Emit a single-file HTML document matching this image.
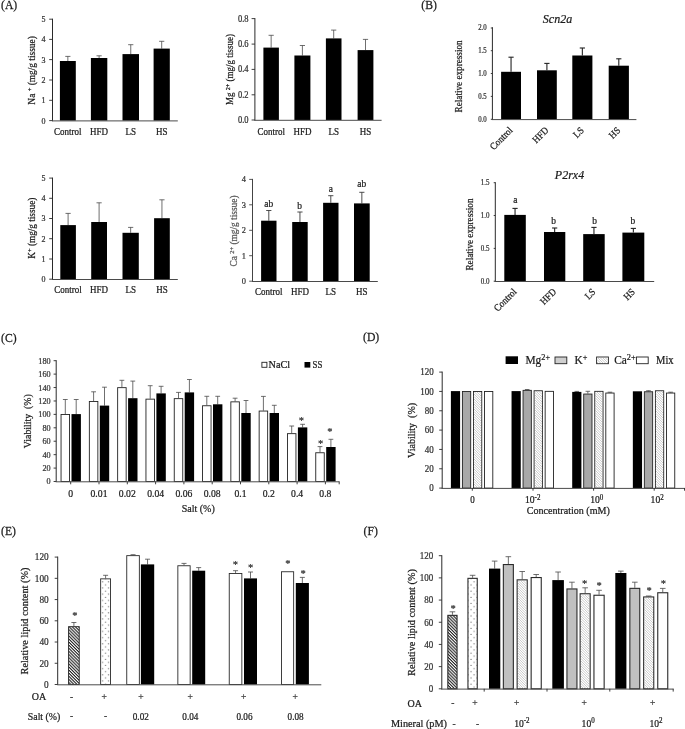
<!DOCTYPE html>
<html lang="en">
<head>
<meta charset="utf-8">
<title>Figure</title>
<style>
html,body{margin:0;padding:0;background:#fff;}
body{width:685px;height:729px;overflow:hidden;}
svg{display:block;filter:blur(0.35px);font-family:"Liberation Serif","Times New Roman",serif;}
</style>
</head>
<body>
<svg width="685" height="729" viewBox="0 0 685 729">
<rect width="685" height="729" fill="#fff"/>
<defs>
<pattern id="hd" width="2.2" height="2.2" patternUnits="userSpaceOnUse" patternTransform="rotate(45)">
<rect width="2.2" height="2.2" fill="#fff"/><rect width="2.2" height="1.1" fill="#222"/></pattern>
<pattern id="hl" width="2.4" height="2.4" patternUnits="userSpaceOnUse">
<rect width="2.4" height="2.4" fill="#fff"/><path d="M-0.6,-0.6L3,3M-0.6,1.8L0.6,3M1.8,-0.6L3,0.6" stroke="#9a9a9a" stroke-width="0.5" fill="none"/></pattern>
<pattern id="dots" width="5.9" height="6.2" patternUnits="userSpaceOnUse">
<rect width="5.9" height="6.2" fill="#fff"/><circle cx="2.3" cy="5.2" r="0.55" fill="#333"/><circle cx="5.2" cy="2.1" r="0.55" fill="#333"/></pattern>
<pattern id="dotsF" width="6.05" height="6.2" patternUnits="userSpaceOnUse">
<rect width="6.05" height="6.2" fill="#fff"/><circle cx="2.15" cy="5.2" r="0.55" fill="#333"/><circle cx="5.2" cy="2.1" r="0.55" fill="#333"/></pattern>
</defs>
<text transform="translate(1,8.9) scale(1,1.15)" font-size="11.7" text-anchor="start" fill="#1c1c1c" stroke="#1c1c1c" stroke-width="0.22">(A)</text>
<line x1="67.85" y1="56.4" x2="67.85" y2="61" stroke="#4a4a4a" stroke-width="0.8"/>
<line x1="65.25" y1="56.4" x2="70.45" y2="56.4" stroke="#4a4a4a" stroke-width="0.8"/>
<rect x="59.9" y="61" width="15.9" height="59.6" fill="#000"/>
<line x1="99.1" y1="55.8" x2="99.1" y2="58" stroke="#4a4a4a" stroke-width="0.8"/>
<line x1="96.5" y1="55.8" x2="101.7" y2="55.8" stroke="#4a4a4a" stroke-width="0.8"/>
<rect x="90.9" y="58" width="16.4" height="62.6" fill="#000"/>
<line x1="130.75" y1="44.7" x2="130.75" y2="54.1" stroke="#4a4a4a" stroke-width="0.8"/>
<line x1="128.15" y1="44.7" x2="133.35" y2="44.7" stroke="#4a4a4a" stroke-width="0.8"/>
<rect x="122.5" y="54.1" width="16.5" height="66.5" fill="#000"/>
<line x1="161.7" y1="41.3" x2="161.7" y2="48.6" stroke="#4a4a4a" stroke-width="0.8"/>
<line x1="159.1" y1="41.3" x2="164.3" y2="41.3" stroke="#4a4a4a" stroke-width="0.8"/>
<rect x="153.6" y="48.6" width="16.2" height="72" fill="#000"/>
<line x1="52.5" y1="18.7" x2="52.5" y2="121.1" stroke="#2a2a2a" stroke-width="1"/>
<line x1="49.2" y1="19.2" x2="52.5" y2="19.2" stroke="#2a2a2a" stroke-width="0.9"/>
<text transform="translate(45.6,22.1) scale(1,1.1)" font-size="8" text-anchor="end" fill="#333" stroke="#333" stroke-width="0.22">5</text>
<line x1="49.2" y1="39.4" x2="52.5" y2="39.4" stroke="#2a2a2a" stroke-width="0.9"/>
<text transform="translate(45.6,42.3) scale(1,1.1)" font-size="8" text-anchor="end" fill="#333" stroke="#333" stroke-width="0.22">4</text>
<line x1="49.2" y1="59.6" x2="52.5" y2="59.6" stroke="#2a2a2a" stroke-width="0.9"/>
<text transform="translate(45.6,62.5) scale(1,1.1)" font-size="8" text-anchor="end" fill="#333" stroke="#333" stroke-width="0.22">3</text>
<line x1="49.2" y1="80" x2="52.5" y2="80" stroke="#2a2a2a" stroke-width="0.9"/>
<text transform="translate(45.6,82.9) scale(1,1.1)" font-size="8" text-anchor="end" fill="#333" stroke="#333" stroke-width="0.22">2</text>
<line x1="49.2" y1="100.3" x2="52.5" y2="100.3" stroke="#2a2a2a" stroke-width="0.9"/>
<text transform="translate(45.6,103.2) scale(1,1.1)" font-size="8" text-anchor="end" fill="#333" stroke="#333" stroke-width="0.22">1</text>
<line x1="49.2" y1="120.6" x2="52.5" y2="120.6" stroke="#2a2a2a" stroke-width="0.9"/>
<text transform="translate(45.6,123.5) scale(1,1.1)" font-size="8" text-anchor="end" fill="#333" stroke="#333" stroke-width="0.22">0</text>
<line x1="52" y1="120.9" x2="177.8" y2="120.9" stroke="#4a4a4a" stroke-width="1"/>
<text transform="translate(35.2,70.4) rotate(-90) scale(1,1.08)" font-size="8.7" text-anchor="middle" fill="#1c1c1c" stroke="#1c1c1c" stroke-width="0.22" textLength="68.5" lengthAdjust="spacingAndGlyphs">Na <tspan font-size="6" dy="-3.2">+</tspan><tspan dy="3.2"> (mg/g tissue)</tspan></text>
<text transform="translate(67.85,135.3) scale(1,1.1)" font-size="9" text-anchor="middle" fill="#1c1c1c" stroke="#1c1c1c" stroke-width="0.22">Control</text>
<text transform="translate(99.1,135.3) scale(1,1.1)" font-size="9" text-anchor="middle" fill="#1c1c1c" stroke="#1c1c1c" stroke-width="0.22">HFD</text>
<text transform="translate(130.75,135.3) scale(1,1.1)" font-size="9" text-anchor="middle" fill="#1c1c1c" stroke="#1c1c1c" stroke-width="0.22">LS</text>
<text transform="translate(161.7,135.3) scale(1,1.1)" font-size="9" text-anchor="middle" fill="#1c1c1c" stroke="#1c1c1c" stroke-width="0.22">HS</text>
<line x1="271.15" y1="35.3" x2="271.15" y2="47.6" stroke="#4a4a4a" stroke-width="0.8"/>
<line x1="268.55" y1="35.3" x2="273.75" y2="35.3" stroke="#4a4a4a" stroke-width="0.8"/>
<rect x="263.4" y="47.6" width="15.5" height="72.4" fill="#000"/>
<line x1="302.4" y1="45.5" x2="302.4" y2="55.5" stroke="#4a4a4a" stroke-width="0.8"/>
<line x1="299.8" y1="45.5" x2="305" y2="45.5" stroke="#4a4a4a" stroke-width="0.8"/>
<rect x="294.4" y="55.5" width="16" height="64.5" fill="#000"/>
<line x1="333.7" y1="30.1" x2="333.7" y2="38.4" stroke="#4a4a4a" stroke-width="0.8"/>
<line x1="331.1" y1="30.1" x2="336.3" y2="30.1" stroke="#4a4a4a" stroke-width="0.8"/>
<rect x="325.9" y="38.4" width="15.6" height="81.6" fill="#000"/>
<line x1="365.5" y1="39.4" x2="365.5" y2="50.1" stroke="#4a4a4a" stroke-width="0.8"/>
<line x1="362.9" y1="39.4" x2="368.1" y2="39.4" stroke="#4a4a4a" stroke-width="0.8"/>
<rect x="357.6" y="50.1" width="15.8" height="69.9" fill="#000"/>
<line x1="254.9" y1="18.1" x2="254.9" y2="120.5" stroke="#2a2a2a" stroke-width="1"/>
<line x1="251.6" y1="18.6" x2="254.9" y2="18.6" stroke="#2a2a2a" stroke-width="0.9"/>
<text transform="translate(248.6,21.69) scale(1,1.1)" font-size="8.5" text-anchor="end" fill="#333" stroke="#333" stroke-width="0.22">0.8</text>
<line x1="251.6" y1="44.1" x2="254.9" y2="44.1" stroke="#2a2a2a" stroke-width="0.9"/>
<text transform="translate(248.6,47.19) scale(1,1.1)" font-size="8.5" text-anchor="end" fill="#333" stroke="#333" stroke-width="0.22">0.6</text>
<line x1="251.6" y1="69.4" x2="254.9" y2="69.4" stroke="#2a2a2a" stroke-width="0.9"/>
<text transform="translate(248.6,72.49) scale(1,1.1)" font-size="8.5" text-anchor="end" fill="#333" stroke="#333" stroke-width="0.22">0.4</text>
<line x1="251.6" y1="94.8" x2="254.9" y2="94.8" stroke="#2a2a2a" stroke-width="0.9"/>
<text transform="translate(248.6,97.89) scale(1,1.1)" font-size="8.5" text-anchor="end" fill="#333" stroke="#333" stroke-width="0.22">0.2</text>
<line x1="251.6" y1="120" x2="254.9" y2="120" stroke="#2a2a2a" stroke-width="0.9"/>
<text transform="translate(248.6,123.09) scale(1,1.1)" font-size="8.5" text-anchor="end" fill="#333" stroke="#333" stroke-width="0.22">0.0</text>
<line x1="254.4" y1="120.3" x2="381.6" y2="120.3" stroke="#4a4a4a" stroke-width="1"/>
<text transform="translate(233.4,69.6) rotate(-90) scale(1,1.08)" font-size="8.7" text-anchor="middle" fill="#1c1c1c" stroke="#1c1c1c" stroke-width="0.22" textLength="71" lengthAdjust="spacingAndGlyphs">Mg <tspan font-size="6" dy="-3.2">2+</tspan><tspan dy="3.2"> (mg/g tissue)</tspan></text>
<text transform="translate(271.15,134.6) scale(1,1.1)" font-size="9" text-anchor="middle" fill="#1c1c1c" stroke="#1c1c1c" stroke-width="0.22">Control</text>
<text transform="translate(302.4,134.6) scale(1,1.1)" font-size="9" text-anchor="middle" fill="#1c1c1c" stroke="#1c1c1c" stroke-width="0.22">HFD</text>
<text transform="translate(333.7,134.6) scale(1,1.1)" font-size="9" text-anchor="middle" fill="#1c1c1c" stroke="#1c1c1c" stroke-width="0.22">LS</text>
<text transform="translate(365.5,134.6) scale(1,1.1)" font-size="9" text-anchor="middle" fill="#1c1c1c" stroke="#1c1c1c" stroke-width="0.22">HS</text>
<line x1="68.1" y1="213.4" x2="68.1" y2="225.1" stroke="#4a4a4a" stroke-width="0.8"/>
<line x1="65.5" y1="213.4" x2="70.7" y2="213.4" stroke="#4a4a4a" stroke-width="0.8"/>
<rect x="60.3" y="225.1" width="15.6" height="54.1" fill="#000"/>
<line x1="99.1" y1="202.8" x2="99.1" y2="222" stroke="#4a4a4a" stroke-width="0.8"/>
<line x1="96.5" y1="202.8" x2="101.7" y2="202.8" stroke="#4a4a4a" stroke-width="0.8"/>
<rect x="91.2" y="222" width="15.8" height="57.2" fill="#000"/>
<line x1="130.65" y1="227.4" x2="130.65" y2="232.8" stroke="#4a4a4a" stroke-width="0.8"/>
<line x1="128.05" y1="227.4" x2="133.25" y2="227.4" stroke="#4a4a4a" stroke-width="0.8"/>
<rect x="122.5" y="232.8" width="16.3" height="46.4" fill="#000"/>
<line x1="161.95" y1="199.8" x2="161.95" y2="218.2" stroke="#4a4a4a" stroke-width="0.8"/>
<line x1="159.35" y1="199.8" x2="164.55" y2="199.8" stroke="#4a4a4a" stroke-width="0.8"/>
<rect x="154.1" y="218.2" width="15.7" height="61" fill="#000"/>
<line x1="52.5" y1="177.6" x2="52.5" y2="279.7" stroke="#2a2a2a" stroke-width="1"/>
<line x1="49.2" y1="178.1" x2="52.5" y2="178.1" stroke="#2a2a2a" stroke-width="0.9"/>
<text transform="translate(45.6,181) scale(1,1.1)" font-size="8" text-anchor="end" fill="#333" stroke="#333" stroke-width="0.22">5</text>
<line x1="49.2" y1="198.3" x2="52.5" y2="198.3" stroke="#2a2a2a" stroke-width="0.9"/>
<text transform="translate(45.6,201.2) scale(1,1.1)" font-size="8" text-anchor="end" fill="#333" stroke="#333" stroke-width="0.22">4</text>
<line x1="49.2" y1="218.5" x2="52.5" y2="218.5" stroke="#2a2a2a" stroke-width="0.9"/>
<text transform="translate(45.6,221.4) scale(1,1.1)" font-size="8" text-anchor="end" fill="#333" stroke="#333" stroke-width="0.22">3</text>
<line x1="49.2" y1="238.7" x2="52.5" y2="238.7" stroke="#2a2a2a" stroke-width="0.9"/>
<text transform="translate(45.6,241.6) scale(1,1.1)" font-size="8" text-anchor="end" fill="#333" stroke="#333" stroke-width="0.22">2</text>
<line x1="49.2" y1="259" x2="52.5" y2="259" stroke="#2a2a2a" stroke-width="0.9"/>
<text transform="translate(45.6,261.9) scale(1,1.1)" font-size="8" text-anchor="end" fill="#333" stroke="#333" stroke-width="0.22">1</text>
<line x1="49.2" y1="279.2" x2="52.5" y2="279.2" stroke="#2a2a2a" stroke-width="0.9"/>
<text transform="translate(45.6,282.1) scale(1,1.1)" font-size="8" text-anchor="end" fill="#333" stroke="#333" stroke-width="0.22">0</text>
<line x1="52" y1="279.5" x2="177.8" y2="279.5" stroke="#4a4a4a" stroke-width="1"/>
<text transform="translate(35.2,228.2) rotate(-90) scale(1,1.08)" font-size="8.7" text-anchor="middle" fill="#1c1c1c" stroke="#1c1c1c" stroke-width="0.22" textLength="61" lengthAdjust="spacingAndGlyphs">K<tspan font-size="6" dy="-3.2">+</tspan><tspan dy="3.2"> (mg/g tissue)</tspan></text>
<text transform="translate(68.1,293.3) scale(1,1.1)" font-size="9" text-anchor="middle" fill="#1c1c1c" stroke="#1c1c1c" stroke-width="0.22">Control</text>
<text transform="translate(99.1,293.3) scale(1,1.1)" font-size="9" text-anchor="middle" fill="#1c1c1c" stroke="#1c1c1c" stroke-width="0.22">HFD</text>
<text transform="translate(130.65,293.3) scale(1,1.1)" font-size="9" text-anchor="middle" fill="#1c1c1c" stroke="#1c1c1c" stroke-width="0.22">LS</text>
<text transform="translate(161.95,293.3) scale(1,1.1)" font-size="9" text-anchor="middle" fill="#1c1c1c" stroke="#1c1c1c" stroke-width="0.22">HS</text>
<line x1="268.8" y1="210.5" x2="268.8" y2="220.7" stroke="#3a3a3a" stroke-width="0.9"/>
<line x1="266.2" y1="210.5" x2="271.4" y2="210.5" stroke="#3a3a3a" stroke-width="0.9"/>
<rect x="261.1" y="220.7" width="15.4" height="60.5" fill="#000"/>
<line x1="299.95" y1="212" x2="299.95" y2="222" stroke="#3a3a3a" stroke-width="0.9"/>
<line x1="297.35" y1="212" x2="302.55" y2="212" stroke="#3a3a3a" stroke-width="0.9"/>
<rect x="292.2" y="222" width="15.5" height="59.2" fill="#000"/>
<line x1="330.8" y1="195.7" x2="330.8" y2="202.8" stroke="#3a3a3a" stroke-width="0.9"/>
<line x1="328.2" y1="195.7" x2="333.4" y2="195.7" stroke="#3a3a3a" stroke-width="0.9"/>
<rect x="323.1" y="202.8" width="15.4" height="78.4" fill="#000"/>
<line x1="361.85" y1="192.3" x2="361.85" y2="203.4" stroke="#3a3a3a" stroke-width="0.9"/>
<line x1="359.25" y1="192.3" x2="364.45" y2="192.3" stroke="#3a3a3a" stroke-width="0.9"/>
<rect x="354" y="203.4" width="15.7" height="77.8" fill="#000"/>
<line x1="252.5" y1="178.9" x2="252.5" y2="281.7" stroke="#444" stroke-width="1"/>
<line x1="249.2" y1="179.4" x2="252.5" y2="179.4" stroke="#444" stroke-width="0.9"/>
<text transform="translate(245.9,182.45) scale(1,1.1)" font-size="8.4" text-anchor="end" fill="#333" stroke="#333" stroke-width="0.22">4</text>
<line x1="249.2" y1="204.8" x2="252.5" y2="204.8" stroke="#444" stroke-width="0.9"/>
<text transform="translate(245.9,207.85) scale(1,1.1)" font-size="8.4" text-anchor="end" fill="#333" stroke="#333" stroke-width="0.22">3</text>
<line x1="249.2" y1="230.3" x2="252.5" y2="230.3" stroke="#444" stroke-width="0.9"/>
<text transform="translate(245.9,233.35) scale(1,1.1)" font-size="8.4" text-anchor="end" fill="#333" stroke="#333" stroke-width="0.22">2</text>
<line x1="249.2" y1="255.7" x2="252.5" y2="255.7" stroke="#444" stroke-width="0.9"/>
<text transform="translate(245.9,258.75) scale(1,1.1)" font-size="8.4" text-anchor="end" fill="#333" stroke="#333" stroke-width="0.22">1</text>
<line x1="249.2" y1="281.2" x2="252.5" y2="281.2" stroke="#444" stroke-width="0.9"/>
<text transform="translate(245.9,284.25) scale(1,1.1)" font-size="8.4" text-anchor="end" fill="#333" stroke="#333" stroke-width="0.22">0</text>
<line x1="252" y1="281.5" x2="377.8" y2="281.5" stroke="#4a4a4a" stroke-width="1"/>
<text transform="translate(237.3,231) rotate(-90) scale(1,1.08)" font-size="8.7" text-anchor="middle" fill="#555" stroke="#555" stroke-width="0.22" textLength="71" lengthAdjust="spacingAndGlyphs">Ca <tspan font-size="6" dy="-3.2">2+</tspan><tspan dy="3.2"> (mg/g tissue)</tspan></text>
<text transform="translate(268.8,295.4) scale(1,1.1)" font-size="9" text-anchor="middle" fill="#1c1c1c" stroke="#1c1c1c" stroke-width="0.22">Control</text>
<text transform="translate(299.95,295.4) scale(1,1.1)" font-size="9" text-anchor="middle" fill="#1c1c1c" stroke="#1c1c1c" stroke-width="0.22">HFD</text>
<text transform="translate(330.8,295.4) scale(1,1.1)" font-size="9" text-anchor="middle" fill="#1c1c1c" stroke="#1c1c1c" stroke-width="0.22">LS</text>
<text transform="translate(361.85,295.4) scale(1,1.1)" font-size="9" text-anchor="middle" fill="#1c1c1c" stroke="#1c1c1c" stroke-width="0.22">HS</text>
<text transform="translate(268.8,207.2) scale(1,1.1)" font-size="9.4" text-anchor="middle" fill="#1c1c1c" stroke="#1c1c1c" stroke-width="0.22">ab</text>
<text transform="translate(299.7,208.8) scale(1,1.1)" font-size="9.4" text-anchor="middle" fill="#1c1c1c" stroke="#1c1c1c" stroke-width="0.22">b</text>
<text transform="translate(330.8,191.5) scale(1,1.1)" font-size="9.4" text-anchor="middle" fill="#1c1c1c" stroke="#1c1c1c" stroke-width="0.22">a</text>
<text transform="translate(361.8,186.7) scale(1,1.1)" font-size="9.4" text-anchor="middle" fill="#1c1c1c" stroke="#1c1c1c" stroke-width="0.22">ab</text>
<text transform="translate(421.3,8.9) scale(1,1.15)" font-size="11.7" text-anchor="start" fill="#1c1c1c" stroke="#1c1c1c" stroke-width="0.22">(B)</text>
<line x1="511.05" y1="57.2" x2="511.05" y2="71.8" stroke="#222" stroke-width="1.1"/>
<line x1="508.45" y1="57.2" x2="513.65" y2="57.2" stroke="#222" stroke-width="1.1"/>
<rect x="501.1" y="71.8" width="19.9" height="47.5" fill="#000"/>
<line x1="546.9" y1="63.4" x2="546.9" y2="70.3" stroke="#222" stroke-width="1.1"/>
<line x1="544.3" y1="63.4" x2="549.5" y2="63.4" stroke="#222" stroke-width="1.1"/>
<rect x="537" y="70.3" width="19.8" height="49" fill="#000"/>
<line x1="582.35" y1="48" x2="582.35" y2="55.5" stroke="#222" stroke-width="1.1"/>
<line x1="579.75" y1="48" x2="584.95" y2="48" stroke="#222" stroke-width="1.1"/>
<rect x="572.3" y="55.5" width="20.1" height="63.8" fill="#000"/>
<line x1="618.8" y1="58.8" x2="618.8" y2="65.7" stroke="#222" stroke-width="1.1"/>
<line x1="616.2" y1="58.8" x2="621.4" y2="58.8" stroke="#222" stroke-width="1.1"/>
<rect x="608.7" y="65.7" width="20.2" height="53.6" fill="#000"/>
<line x1="492.4" y1="27.2" x2="492.4" y2="119.8" stroke="#2a2a2a" stroke-width="1"/>
<line x1="490.8" y1="28" x2="492.4" y2="28" stroke="#2a2a2a" stroke-width="0.9"/>
<text transform="translate(486.6,30.47) scale(1,1.1)" font-size="6.8" text-anchor="end" fill="#333" stroke="#333" stroke-width="0.22">2.0</text>
<line x1="490.8" y1="50.7" x2="492.4" y2="50.7" stroke="#2a2a2a" stroke-width="0.9"/>
<text transform="translate(486.6,53.17) scale(1,1.1)" font-size="6.8" text-anchor="end" fill="#333" stroke="#333" stroke-width="0.22">1.5</text>
<line x1="490.8" y1="73.5" x2="492.4" y2="73.5" stroke="#2a2a2a" stroke-width="0.9"/>
<text transform="translate(486.6,75.97) scale(1,1.1)" font-size="6.8" text-anchor="end" fill="#333" stroke="#333" stroke-width="0.22">1.0</text>
<line x1="490.8" y1="96.4" x2="492.4" y2="96.4" stroke="#2a2a2a" stroke-width="0.9"/>
<text transform="translate(486.6,98.87) scale(1,1.1)" font-size="6.8" text-anchor="end" fill="#333" stroke="#333" stroke-width="0.22">0.5</text>
<line x1="490.8" y1="119.3" x2="492.4" y2="119.3" stroke="#2a2a2a" stroke-width="0.9"/>
<text transform="translate(486.6,121.77) scale(1,1.1)" font-size="6.8" text-anchor="end" fill="#333" stroke="#333" stroke-width="0.22">0.0</text>
<line x1="491.9" y1="119.6" x2="636.4" y2="119.6" stroke="#4a4a4a" stroke-width="1"/>
<text transform="translate(461.8,76.4) rotate(-90) scale(1,1.08)" font-size="9" text-anchor="middle" fill="#1c1c1c" stroke="#1c1c1c" stroke-width="0.22" textLength="72" lengthAdjust="spacingAndGlyphs">Relative expression</text>
<text transform="translate(513.25,131) rotate(-45) scale(1,1.1)" font-size="9" text-anchor="end" fill="#1c1c1c" stroke="#1c1c1c" stroke-width="0.22">Control</text>
<text transform="translate(549.1,131) rotate(-45) scale(1,1.1)" font-size="9" text-anchor="end" fill="#1c1c1c" stroke="#1c1c1c" stroke-width="0.22">HFD</text>
<text transform="translate(584.55,131) rotate(-45) scale(1,1.1)" font-size="9" text-anchor="end" fill="#1c1c1c" stroke="#1c1c1c" stroke-width="0.22">LS</text>
<text transform="translate(621,131) rotate(-45) scale(1,1.1)" font-size="9" text-anchor="end" fill="#1c1c1c" stroke="#1c1c1c" stroke-width="0.22">HS</text>
<text transform="translate(557.5,22.6) scale(1,1.1)" font-size="12" text-anchor="middle" fill="#1c1c1c" stroke="#1c1c1c" stroke-width="0.22" font-style="italic">Scn2a</text>
<line x1="515.05" y1="208.4" x2="515.05" y2="214.9" stroke="#222" stroke-width="1.1"/>
<line x1="512.45" y1="208.4" x2="517.65" y2="208.4" stroke="#222" stroke-width="1.1"/>
<rect x="504.3" y="214.9" width="21.5" height="66.3" fill="#000"/>
<line x1="554.65" y1="228" x2="554.65" y2="232" stroke="#222" stroke-width="1.1"/>
<line x1="552.05" y1="228" x2="557.25" y2="228" stroke="#222" stroke-width="1.1"/>
<rect x="544" y="232" width="21.3" height="49.2" fill="#000"/>
<line x1="593.95" y1="227.4" x2="593.95" y2="234.1" stroke="#222" stroke-width="1.1"/>
<line x1="591.35" y1="227.4" x2="596.55" y2="227.4" stroke="#222" stroke-width="1.1"/>
<rect x="583.2" y="234.1" width="21.5" height="47.1" fill="#000"/>
<line x1="633.35" y1="228.4" x2="633.35" y2="232.6" stroke="#222" stroke-width="1.1"/>
<line x1="630.75" y1="228.4" x2="635.95" y2="228.4" stroke="#222" stroke-width="1.1"/>
<rect x="622.4" y="232.6" width="21.9" height="48.6" fill="#000"/>
<line x1="495.3" y1="182.2" x2="495.3" y2="281.7" stroke="#2a2a2a" stroke-width="1"/>
<line x1="493.7" y1="182.7" x2="495.3" y2="182.7" stroke="#2a2a2a" stroke-width="0.9"/>
<text transform="translate(489.5,185.24) scale(1,1.1)" font-size="7" text-anchor="end" fill="#333" stroke="#333" stroke-width="0.22">1.5</text>
<line x1="493.7" y1="215.5" x2="495.3" y2="215.5" stroke="#2a2a2a" stroke-width="0.9"/>
<text transform="translate(489.5,218.04) scale(1,1.1)" font-size="7" text-anchor="end" fill="#333" stroke="#333" stroke-width="0.22">1.0</text>
<line x1="493.7" y1="248.4" x2="495.3" y2="248.4" stroke="#2a2a2a" stroke-width="0.9"/>
<text transform="translate(489.5,250.94) scale(1,1.1)" font-size="7" text-anchor="end" fill="#333" stroke="#333" stroke-width="0.22">0.5</text>
<line x1="493.7" y1="281.2" x2="495.3" y2="281.2" stroke="#2a2a2a" stroke-width="0.9"/>
<text transform="translate(489.5,283.74) scale(1,1.1)" font-size="7" text-anchor="end" fill="#333" stroke="#333" stroke-width="0.22">0.0</text>
<line x1="494.8" y1="281.5" x2="654.2" y2="281.5" stroke="#4a4a4a" stroke-width="1"/>
<text transform="translate(473.3,234.5) rotate(-90) scale(1,1.08)" font-size="9" text-anchor="middle" fill="#1c1c1c" stroke="#1c1c1c" stroke-width="0.22" textLength="72" lengthAdjust="spacingAndGlyphs">Relative expression</text>
<text transform="translate(517.25,292.5) rotate(-45) scale(1,1.1)" font-size="9" text-anchor="end" fill="#1c1c1c" stroke="#1c1c1c" stroke-width="0.22">Control</text>
<text transform="translate(556.85,292.5) rotate(-45) scale(1,1.1)" font-size="9" text-anchor="end" fill="#1c1c1c" stroke="#1c1c1c" stroke-width="0.22">HFD</text>
<text transform="translate(596.15,292.5) rotate(-45) scale(1,1.1)" font-size="9" text-anchor="end" fill="#1c1c1c" stroke="#1c1c1c" stroke-width="0.22">LS</text>
<text transform="translate(635.55,292.5) rotate(-45) scale(1,1.1)" font-size="9" text-anchor="end" fill="#1c1c1c" stroke="#1c1c1c" stroke-width="0.22">HS</text>
<text transform="translate(515.3,203) scale(1,1.1)" font-size="9.4" text-anchor="middle" fill="#1c1c1c" stroke="#1c1c1c" stroke-width="0.22">a</text>
<text transform="translate(553.5,224) scale(1,1.1)" font-size="9.4" text-anchor="middle" fill="#1c1c1c" stroke="#1c1c1c" stroke-width="0.22">b</text>
<text transform="translate(594.7,224) scale(1,1.1)" font-size="9.4" text-anchor="middle" fill="#1c1c1c" stroke="#1c1c1c" stroke-width="0.22">b</text>
<text transform="translate(632.9,223.6) scale(1,1.1)" font-size="9.4" text-anchor="middle" fill="#1c1c1c" stroke="#1c1c1c" stroke-width="0.22">b</text>
<text transform="translate(569.5,178.6) scale(1,1.1)" font-size="12" text-anchor="middle" fill="#1c1c1c" stroke="#1c1c1c" stroke-width="0.22" font-style="italic">P2rx4</text>
<text transform="translate(1,342.2) scale(1,1.15)" font-size="11.7" text-anchor="start" fill="#1c1c1c" stroke="#1c1c1c" stroke-width="0.22">(C)</text>
<line x1="65.3" y1="399.5" x2="65.3" y2="414.1" stroke="#4a4a4a" stroke-width="0.8"/>
<line x1="62.9" y1="399.5" x2="67.7" y2="399.5" stroke="#4a4a4a" stroke-width="0.8"/>
<line x1="76.2" y1="399.5" x2="76.2" y2="414.1" stroke="#4a4a4a" stroke-width="0.8"/>
<line x1="73.8" y1="399.5" x2="78.6" y2="399.5" stroke="#4a4a4a" stroke-width="0.8"/>
<rect x="61.05" y="414.55" width="8.5" height="66.95" fill="#fff" stroke="#222" stroke-width="0.9"/>
<rect x="71.5" y="414.1" width="9.4" height="67.4" fill="#000"/>
<line x1="93.6" y1="391.8" x2="93.6" y2="401" stroke="#4a4a4a" stroke-width="0.8"/>
<line x1="91.2" y1="391.8" x2="96" y2="391.8" stroke="#4a4a4a" stroke-width="0.8"/>
<line x1="104.5" y1="387.2" x2="104.5" y2="405.6" stroke="#4a4a4a" stroke-width="0.8"/>
<line x1="102.1" y1="387.2" x2="106.9" y2="387.2" stroke="#4a4a4a" stroke-width="0.8"/>
<rect x="89.35" y="401.45" width="8.5" height="80.05" fill="#fff" stroke="#222" stroke-width="0.9"/>
<rect x="99.8" y="405.6" width="9.4" height="75.9" fill="#000"/>
<line x1="121.9" y1="380.3" x2="121.9" y2="387.2" stroke="#4a4a4a" stroke-width="0.8"/>
<line x1="119.5" y1="380.3" x2="124.3" y2="380.3" stroke="#4a4a4a" stroke-width="0.8"/>
<line x1="132.8" y1="381.1" x2="132.8" y2="398.2" stroke="#4a4a4a" stroke-width="0.8"/>
<line x1="130.4" y1="381.1" x2="135.2" y2="381.1" stroke="#4a4a4a" stroke-width="0.8"/>
<rect x="117.65" y="387.65" width="8.5" height="93.85" fill="#fff" stroke="#222" stroke-width="0.9"/>
<rect x="128.1" y="398.2" width="9.4" height="83.3" fill="#000"/>
<line x1="150.2" y1="385.7" x2="150.2" y2="398.7" stroke="#4a4a4a" stroke-width="0.8"/>
<line x1="147.8" y1="385.7" x2="152.6" y2="385.7" stroke="#4a4a4a" stroke-width="0.8"/>
<line x1="161.1" y1="386.3" x2="161.1" y2="393.4" stroke="#4a4a4a" stroke-width="0.8"/>
<line x1="158.7" y1="386.3" x2="163.5" y2="386.3" stroke="#4a4a4a" stroke-width="0.8"/>
<rect x="145.95" y="399.15" width="8.5" height="82.35" fill="#fff" stroke="#222" stroke-width="0.9"/>
<rect x="156.4" y="393.4" width="9.4" height="88.1" fill="#000"/>
<line x1="178.5" y1="392.4" x2="178.5" y2="398.2" stroke="#4a4a4a" stroke-width="0.8"/>
<line x1="176.1" y1="392.4" x2="180.9" y2="392.4" stroke="#4a4a4a" stroke-width="0.8"/>
<line x1="189.4" y1="379.5" x2="189.4" y2="392.4" stroke="#4a4a4a" stroke-width="0.8"/>
<line x1="187" y1="379.5" x2="191.8" y2="379.5" stroke="#4a4a4a" stroke-width="0.8"/>
<rect x="174.25" y="398.65" width="8.5" height="82.85" fill="#fff" stroke="#222" stroke-width="0.9"/>
<rect x="184.7" y="392.4" width="9.4" height="89.1" fill="#000"/>
<line x1="206.8" y1="396.3" x2="206.8" y2="405.3" stroke="#4a4a4a" stroke-width="0.8"/>
<line x1="204.4" y1="396.3" x2="209.2" y2="396.3" stroke="#4a4a4a" stroke-width="0.8"/>
<line x1="217.7" y1="396.3" x2="217.7" y2="404.3" stroke="#4a4a4a" stroke-width="0.8"/>
<line x1="215.3" y1="396.3" x2="220.1" y2="396.3" stroke="#4a4a4a" stroke-width="0.8"/>
<rect x="202.55" y="405.75" width="8.5" height="75.75" fill="#fff" stroke="#222" stroke-width="0.9"/>
<rect x="213" y="404.3" width="9.4" height="77.2" fill="#000"/>
<line x1="235.1" y1="398.2" x2="235.1" y2="401.4" stroke="#4a4a4a" stroke-width="0.8"/>
<line x1="232.7" y1="398.2" x2="237.5" y2="398.2" stroke="#4a4a4a" stroke-width="0.8"/>
<line x1="246" y1="400.5" x2="246" y2="413" stroke="#4a4a4a" stroke-width="0.8"/>
<line x1="243.6" y1="400.5" x2="248.4" y2="400.5" stroke="#4a4a4a" stroke-width="0.8"/>
<rect x="230.85" y="401.85" width="8.5" height="79.65" fill="#fff" stroke="#222" stroke-width="0.9"/>
<rect x="241.3" y="413" width="9.4" height="68.5" fill="#000"/>
<line x1="263.4" y1="396.4" x2="263.4" y2="410.6" stroke="#4a4a4a" stroke-width="0.8"/>
<line x1="261" y1="396.4" x2="265.8" y2="396.4" stroke="#4a4a4a" stroke-width="0.8"/>
<line x1="274.3" y1="405.3" x2="274.3" y2="413" stroke="#4a4a4a" stroke-width="0.8"/>
<line x1="271.9" y1="405.3" x2="276.7" y2="405.3" stroke="#4a4a4a" stroke-width="0.8"/>
<rect x="259.15" y="411.05" width="8.5" height="70.45" fill="#fff" stroke="#222" stroke-width="0.9"/>
<rect x="269.6" y="413" width="9.4" height="68.5" fill="#000"/>
<line x1="291.7" y1="426" x2="291.7" y2="433.2" stroke="#4a4a4a" stroke-width="0.8"/>
<line x1="289.3" y1="426" x2="294.1" y2="426" stroke="#4a4a4a" stroke-width="0.8"/>
<line x1="302.6" y1="424.3" x2="302.6" y2="427.4" stroke="#4a4a4a" stroke-width="0.8"/>
<line x1="300.2" y1="424.3" x2="305" y2="424.3" stroke="#4a4a4a" stroke-width="0.8"/>
<rect x="287.45" y="433.65" width="8.5" height="47.85" fill="#fff" stroke="#222" stroke-width="0.9"/>
<rect x="297.9" y="427.4" width="9.4" height="54.1" fill="#000"/>
<line x1="320" y1="446.6" x2="320" y2="452.3" stroke="#4a4a4a" stroke-width="0.8"/>
<line x1="317.6" y1="446.6" x2="322.4" y2="446.6" stroke="#4a4a4a" stroke-width="0.8"/>
<line x1="330.9" y1="439.3" x2="330.9" y2="447" stroke="#4a4a4a" stroke-width="0.8"/>
<line x1="328.5" y1="439.3" x2="333.3" y2="439.3" stroke="#4a4a4a" stroke-width="0.8"/>
<rect x="315.75" y="452.75" width="8.5" height="28.75" fill="#fff" stroke="#222" stroke-width="0.9"/>
<rect x="326.2" y="447" width="9.4" height="34.5" fill="#000"/>
<line x1="56.2" y1="360.2" x2="56.2" y2="482" stroke="#2a2a2a" stroke-width="1"/>
<line x1="53.6" y1="360.7" x2="56.2" y2="360.7" stroke="#2a2a2a" stroke-width="0.9"/>
<text transform="translate(50.6,363.68) scale(1,1.1)" font-size="8.2" text-anchor="end" fill="#333" stroke="#333" stroke-width="0.22">180</text>
<line x1="53.6" y1="374.12" x2="56.2" y2="374.12" stroke="#2a2a2a" stroke-width="0.9"/>
<text transform="translate(50.6,377.1) scale(1,1.1)" font-size="8.2" text-anchor="end" fill="#333" stroke="#333" stroke-width="0.22">160</text>
<line x1="53.6" y1="387.54" x2="56.2" y2="387.54" stroke="#2a2a2a" stroke-width="0.9"/>
<text transform="translate(50.6,390.52) scale(1,1.1)" font-size="8.2" text-anchor="end" fill="#333" stroke="#333" stroke-width="0.22">140</text>
<line x1="53.6" y1="400.97" x2="56.2" y2="400.97" stroke="#2a2a2a" stroke-width="0.9"/>
<text transform="translate(50.6,403.94) scale(1,1.1)" font-size="8.2" text-anchor="end" fill="#333" stroke="#333" stroke-width="0.22">120</text>
<line x1="53.6" y1="414.39" x2="56.2" y2="414.39" stroke="#2a2a2a" stroke-width="0.9"/>
<text transform="translate(50.6,417.37) scale(1,1.1)" font-size="8.2" text-anchor="end" fill="#333" stroke="#333" stroke-width="0.22">100</text>
<line x1="53.6" y1="427.81" x2="56.2" y2="427.81" stroke="#2a2a2a" stroke-width="0.9"/>
<text transform="translate(50.6,430.79) scale(1,1.1)" font-size="8.2" text-anchor="end" fill="#333" stroke="#333" stroke-width="0.22">80</text>
<line x1="53.6" y1="441.23" x2="56.2" y2="441.23" stroke="#2a2a2a" stroke-width="0.9"/>
<text transform="translate(50.6,444.21) scale(1,1.1)" font-size="8.2" text-anchor="end" fill="#333" stroke="#333" stroke-width="0.22">60</text>
<line x1="53.6" y1="454.66" x2="56.2" y2="454.66" stroke="#2a2a2a" stroke-width="0.9"/>
<text transform="translate(50.6,457.63) scale(1,1.1)" font-size="8.2" text-anchor="end" fill="#333" stroke="#333" stroke-width="0.22">40</text>
<line x1="53.6" y1="468.08" x2="56.2" y2="468.08" stroke="#2a2a2a" stroke-width="0.9"/>
<text transform="translate(50.6,471.05) scale(1,1.1)" font-size="8.2" text-anchor="end" fill="#333" stroke="#333" stroke-width="0.22">20</text>
<line x1="53.6" y1="481.5" x2="56.2" y2="481.5" stroke="#2a2a2a" stroke-width="0.9"/>
<text transform="translate(50.6,484.48) scale(1,1.1)" font-size="8.2" text-anchor="end" fill="#333" stroke="#333" stroke-width="0.22">0</text>
<line x1="55.7" y1="481.8" x2="339.4" y2="481.8" stroke="#4a4a4a" stroke-width="1"/>
<line x1="70.7" y1="481.5" x2="70.7" y2="484.3" stroke="#2a2a2a" stroke-width="0.9"/>
<text transform="translate(70.7,497.2) scale(1,1.1)" font-size="9.7" text-anchor="middle" fill="#1c1c1c" stroke="#1c1c1c" stroke-width="0.22">0</text>
<line x1="99" y1="481.5" x2="99" y2="484.3" stroke="#2a2a2a" stroke-width="0.9"/>
<text transform="translate(99,497.2) scale(1,1.1)" font-size="9.7" text-anchor="middle" fill="#1c1c1c" stroke="#1c1c1c" stroke-width="0.22">0.01</text>
<line x1="127.3" y1="481.5" x2="127.3" y2="484.3" stroke="#2a2a2a" stroke-width="0.9"/>
<text transform="translate(127.3,497.2) scale(1,1.1)" font-size="9.7" text-anchor="middle" fill="#1c1c1c" stroke="#1c1c1c" stroke-width="0.22">0.02</text>
<line x1="155.6" y1="481.5" x2="155.6" y2="484.3" stroke="#2a2a2a" stroke-width="0.9"/>
<text transform="translate(155.6,497.2) scale(1,1.1)" font-size="9.7" text-anchor="middle" fill="#1c1c1c" stroke="#1c1c1c" stroke-width="0.22">0.04</text>
<line x1="183.9" y1="481.5" x2="183.9" y2="484.3" stroke="#2a2a2a" stroke-width="0.9"/>
<text transform="translate(183.9,497.2) scale(1,1.1)" font-size="9.7" text-anchor="middle" fill="#1c1c1c" stroke="#1c1c1c" stroke-width="0.22">0.06</text>
<line x1="212.2" y1="481.5" x2="212.2" y2="484.3" stroke="#2a2a2a" stroke-width="0.9"/>
<text transform="translate(212.2,497.2) scale(1,1.1)" font-size="9.7" text-anchor="middle" fill="#1c1c1c" stroke="#1c1c1c" stroke-width="0.22">0.08</text>
<line x1="240.5" y1="481.5" x2="240.5" y2="484.3" stroke="#2a2a2a" stroke-width="0.9"/>
<text transform="translate(240.5,497.2) scale(1,1.1)" font-size="9.7" text-anchor="middle" fill="#1c1c1c" stroke="#1c1c1c" stroke-width="0.22">0.1</text>
<line x1="268.8" y1="481.5" x2="268.8" y2="484.3" stroke="#2a2a2a" stroke-width="0.9"/>
<text transform="translate(268.8,497.2) scale(1,1.1)" font-size="9.7" text-anchor="middle" fill="#1c1c1c" stroke="#1c1c1c" stroke-width="0.22">0.2</text>
<line x1="297.1" y1="481.5" x2="297.1" y2="484.3" stroke="#2a2a2a" stroke-width="0.9"/>
<text transform="translate(297.1,497.2) scale(1,1.1)" font-size="9.7" text-anchor="middle" fill="#1c1c1c" stroke="#1c1c1c" stroke-width="0.22">0.4</text>
<line x1="325.4" y1="481.5" x2="325.4" y2="484.3" stroke="#2a2a2a" stroke-width="0.9"/>
<text transform="translate(325.4,497.2) scale(1,1.1)" font-size="9.7" text-anchor="middle" fill="#1c1c1c" stroke="#1c1c1c" stroke-width="0.22">0.8</text>
<line x1="339.2" y1="481.5" x2="339.2" y2="484.3" stroke="#2a2a2a" stroke-width="0.9"/>
<text transform="translate(198.2,511.8) scale(1,1.1)" font-size="10" text-anchor="middle" fill="#1c1c1c" stroke="#1c1c1c" stroke-width="0.22">Salt (%)</text>
<text transform="translate(31,421.2) rotate(-90) scale(1,1.1)" font-size="10" text-anchor="middle" fill="#1c1c1c" stroke="#1c1c1c" stroke-width="0.22" textLength="54" lengthAdjust="spacingAndGlyphs">Viability &#160;(%)</text>
<text transform="translate(301.3,424.24)" font-size="10.5" text-anchor="middle" fill="#2a2a2a" stroke="#2a2a2a" stroke-width="0.18">*</text>
<text transform="translate(320.5,446.74)" font-size="10.5" text-anchor="middle" fill="#2a2a2a" stroke="#2a2a2a" stroke-width="0.18">*</text>
<text transform="translate(329.9,434.83)" font-size="10.5" text-anchor="middle" fill="#2a2a2a" stroke="#2a2a2a" stroke-width="0.18">*</text>
<rect x="261.9" y="362.3" width="5" height="5" fill="#fff" stroke="#222" stroke-width="0.9"/>
<text transform="translate(268.5,367.7) scale(1,1.1)" font-size="9" text-anchor="start" fill="#1c1c1c" stroke="#1c1c1c" stroke-width="0.22" textLength="21.6" lengthAdjust="spacingAndGlyphs">NaCl</text>
<rect x="304.5" y="362" width="5.8" height="5.6" fill="#000"/>
<text transform="translate(312.6,367.7) scale(1,1.1)" font-size="9" text-anchor="start" fill="#1c1c1c" stroke="#1c1c1c" stroke-width="0.22" textLength="9.8" lengthAdjust="spacingAndGlyphs">SS</text>
<text transform="translate(363,341.4) scale(1,1.15)" font-size="11.7" text-anchor="start" fill="#1c1c1c" stroke="#1c1c1c" stroke-width="0.22">(D)</text>
<rect x="450.9" y="391.1" width="9.2" height="97" fill="#000"/>
<rect x="462.4" y="391.55" width="8.3" height="96.55" fill="#a8a8a8" stroke="#222" stroke-width="0.9"/>
<rect x="473.45" y="391.55" width="8.3" height="96.55" fill="#fff" stroke="#222" stroke-width="0.9"/>
<path d="M479.5,392L481.3,393.8M477,392L481.3,396.3M474.5,392L481.3,398.8M473.9,393.9L481.3,401.3M473.9,396.4L481.3,403.8M473.9,398.9L481.3,406.3M473.9,401.4L481.3,408.8M473.9,403.9L481.3,411.3M473.9,406.4L481.3,413.8M473.9,408.9L481.3,416.3M473.9,411.4L481.3,418.8M473.9,413.9L481.3,421.3M473.9,416.4L481.3,423.8M473.9,418.9L481.3,426.3M473.9,421.4L481.3,428.8M473.9,423.9L481.3,431.3M473.9,426.4L481.3,433.8M473.9,428.9L481.3,436.3M473.9,431.4L481.3,438.8M473.9,433.9L481.3,441.3M473.9,436.4L481.3,443.8M473.9,438.9L481.3,446.3M473.9,441.4L481.3,448.8M473.9,443.9L481.3,451.3M473.9,446.4L481.3,453.8M473.9,448.9L481.3,456.3M473.9,451.4L481.3,458.8M473.9,453.9L481.3,461.3M473.9,456.4L481.3,463.8M473.9,458.9L481.3,466.3M473.9,461.4L481.3,468.8M473.9,463.9L481.3,471.3M473.9,466.4L481.3,473.8M473.9,468.9L481.3,476.3M473.9,471.4L481.3,478.8M473.9,473.9L481.3,481.3M473.9,476.4L481.3,483.8M473.9,478.9L481.3,486.3M473.9,481.4L480.6,488.1M473.9,483.9L478.1,488.1M473.9,486.4L475.6,488.1" stroke="#a0a0a0" stroke-width="0.55" fill="none"/>
<rect x="484.5" y="391.55" width="8.3" height="96.55" fill="#fff" stroke="#222" stroke-width="0.9"/>
<rect x="511.55" y="391.1" width="9.2" height="97" fill="#000"/>
<line x1="527.2" y1="389.5" x2="527.2" y2="389.9" stroke="#4a4a4a" stroke-width="0.8"/>
<line x1="524.9" y1="389.5" x2="529.5" y2="389.5" stroke="#4a4a4a" stroke-width="0.8"/>
<rect x="523.05" y="390.35" width="8.3" height="97.75" fill="#a8a8a8" stroke="#222" stroke-width="0.9"/>
<rect x="534.1" y="390.75" width="8.3" height="97.35" fill="#fff" stroke="#222" stroke-width="0.9"/>
<path d="M541.2,391.2L541.95,391.95M538.7,391.2L541.95,394.45M536.2,391.2L541.95,396.95M534.55,392.05L541.95,399.45M534.55,394.55L541.95,401.95M534.55,397.05L541.95,404.45M534.55,399.55L541.95,406.95M534.55,402.05L541.95,409.45M534.55,404.55L541.95,411.95M534.55,407.05L541.95,414.45M534.55,409.55L541.95,416.95M534.55,412.05L541.95,419.45M534.55,414.55L541.95,421.95M534.55,417.05L541.95,424.45M534.55,419.55L541.95,426.95M534.55,422.05L541.95,429.45M534.55,424.55L541.95,431.95M534.55,427.05L541.95,434.45M534.55,429.55L541.95,436.95M534.55,432.05L541.95,439.45M534.55,434.55L541.95,441.95M534.55,437.05L541.95,444.45M534.55,439.55L541.95,446.95M534.55,442.05L541.95,449.45M534.55,444.55L541.95,451.95M534.55,447.05L541.95,454.45M534.55,449.55L541.95,456.95M534.55,452.05L541.95,459.45M534.55,454.55L541.95,461.95M534.55,457.05L541.95,464.45M534.55,459.55L541.95,466.95M534.55,462.05L541.95,469.45M534.55,464.55L541.95,471.95M534.55,467.05L541.95,474.45M534.55,469.55L541.95,476.95M534.55,472.05L541.95,479.45M534.55,474.55L541.95,481.95M534.55,477.05L541.95,484.45M534.55,479.55L541.95,486.95M534.55,482.05L540.6,488.1M534.55,484.55L538.1,488.1M534.55,487.05L535.6,488.1" stroke="#a0a0a0" stroke-width="0.55" fill="none"/>
<rect x="545.15" y="391.35" width="8.3" height="96.75" fill="#fff" stroke="#222" stroke-width="0.9"/>
<line x1="576.8" y1="391.4" x2="576.8" y2="391.9" stroke="#4a4a4a" stroke-width="0.8"/>
<line x1="574.5" y1="391.4" x2="579.1" y2="391.4" stroke="#4a4a4a" stroke-width="0.8"/>
<rect x="572.2" y="391.9" width="9.2" height="96.2" fill="#000"/>
<line x1="587.85" y1="391.3" x2="587.85" y2="393.6" stroke="#4a4a4a" stroke-width="0.8"/>
<line x1="585.55" y1="391.3" x2="590.15" y2="391.3" stroke="#4a4a4a" stroke-width="0.8"/>
<rect x="583.7" y="394.05" width="8.3" height="94.05" fill="#a8a8a8" stroke="#222" stroke-width="0.9"/>
<rect x="594.75" y="391.35" width="8.3" height="96.75" fill="#fff" stroke="#222" stroke-width="0.9"/>
<path d="M601.8,391.8L602.6,392.6M599.3,391.8L602.6,395.1M596.8,391.8L602.6,397.6M595.2,392.7L602.6,400.1M595.2,395.2L602.6,402.6M595.2,397.7L602.6,405.1M595.2,400.2L602.6,407.6M595.2,402.7L602.6,410.1M595.2,405.2L602.6,412.6M595.2,407.7L602.6,415.1M595.2,410.2L602.6,417.6M595.2,412.7L602.6,420.1M595.2,415.2L602.6,422.6M595.2,417.7L602.6,425.1M595.2,420.2L602.6,427.6M595.2,422.7L602.6,430.1M595.2,425.2L602.6,432.6M595.2,427.7L602.6,435.1M595.2,430.2L602.6,437.6M595.2,432.7L602.6,440.1M595.2,435.2L602.6,442.6M595.2,437.7L602.6,445.1M595.2,440.2L602.6,447.6M595.2,442.7L602.6,450.1M595.2,445.2L602.6,452.6M595.2,447.7L602.6,455.1M595.2,450.2L602.6,457.6M595.2,452.7L602.6,460.1M595.2,455.2L602.6,462.6M595.2,457.7L602.6,465.1M595.2,460.2L602.6,467.6M595.2,462.7L602.6,470.1M595.2,465.2L602.6,472.6M595.2,467.7L602.6,475.1M595.2,470.2L602.6,477.6M595.2,472.7L602.6,480.1M595.2,475.2L602.6,482.6M595.2,477.7L602.6,485.1M595.2,480.2L602.6,487.6M595.2,482.7L600.6,488.1M595.2,485.2L598.1,488.1M595.2,487.7L595.6,488.1" stroke="#a0a0a0" stroke-width="0.55" fill="none"/>
<line x1="609.95" y1="392.2" x2="609.95" y2="392.6" stroke="#4a4a4a" stroke-width="0.8"/>
<line x1="607.65" y1="392.2" x2="612.25" y2="392.2" stroke="#4a4a4a" stroke-width="0.8"/>
<rect x="605.8" y="393.05" width="8.3" height="95.05" fill="#fff" stroke="#222" stroke-width="0.9"/>
<rect x="632.85" y="391.3" width="9.2" height="96.8" fill="#000"/>
<line x1="648.5" y1="390.7" x2="648.5" y2="391.3" stroke="#4a4a4a" stroke-width="0.8"/>
<line x1="646.2" y1="390.7" x2="650.8" y2="390.7" stroke="#4a4a4a" stroke-width="0.8"/>
<rect x="644.35" y="391.75" width="8.3" height="96.35" fill="#a8a8a8" stroke="#222" stroke-width="0.9"/>
<rect x="655.4" y="390.75" width="8.3" height="97.35" fill="#fff" stroke="#222" stroke-width="0.9"/>
<path d="M661.2,391.2L663.25,393.25M658.7,391.2L663.25,395.75M656.2,391.2L663.25,398.25M655.85,393.35L663.25,400.75M655.85,395.85L663.25,403.25M655.85,398.35L663.25,405.75M655.85,400.85L663.25,408.25M655.85,403.35L663.25,410.75M655.85,405.85L663.25,413.25M655.85,408.35L663.25,415.75M655.85,410.85L663.25,418.25M655.85,413.35L663.25,420.75M655.85,415.85L663.25,423.25M655.85,418.35L663.25,425.75M655.85,420.85L663.25,428.25M655.85,423.35L663.25,430.75M655.85,425.85L663.25,433.25M655.85,428.35L663.25,435.75M655.85,430.85L663.25,438.25M655.85,433.35L663.25,440.75M655.85,435.85L663.25,443.25M655.85,438.35L663.25,445.75M655.85,440.85L663.25,448.25M655.85,443.35L663.25,450.75M655.85,445.85L663.25,453.25M655.85,448.35L663.25,455.75M655.85,450.85L663.25,458.25M655.85,453.35L663.25,460.75M655.85,455.85L663.25,463.25M655.85,458.35L663.25,465.75M655.85,460.85L663.25,468.25M655.85,463.35L663.25,470.75M655.85,465.85L663.25,473.25M655.85,468.35L663.25,475.75M655.85,470.85L663.25,478.25M655.85,473.35L663.25,480.75M655.85,475.85L663.25,483.25M655.85,478.35L663.25,485.75M655.85,480.85L663.1,488.1M655.85,483.35L660.6,488.1M655.85,485.85L658.1,488.1" stroke="#a0a0a0" stroke-width="0.55" fill="none"/>
<line x1="670.6" y1="392.2" x2="670.6" y2="392.6" stroke="#4a4a4a" stroke-width="0.8"/>
<line x1="668.3" y1="392.2" x2="672.9" y2="392.2" stroke="#4a4a4a" stroke-width="0.8"/>
<rect x="666.45" y="393.05" width="8.3" height="95.05" fill="#fff" stroke="#222" stroke-width="0.9"/>
<line x1="442.2" y1="371.6" x2="442.2" y2="488.6" stroke="#2a2a2a" stroke-width="1"/>
<line x1="439.2" y1="372.1" x2="442.2" y2="372.1" stroke="#2a2a2a" stroke-width="0.9"/>
<text transform="translate(433.7,375.37) scale(1,1.1)" font-size="9" text-anchor="end" fill="#333" stroke="#333" stroke-width="0.22">120</text>
<line x1="439.2" y1="391.43" x2="442.2" y2="391.43" stroke="#2a2a2a" stroke-width="0.9"/>
<text transform="translate(433.7,394.7) scale(1,1.1)" font-size="9" text-anchor="end" fill="#333" stroke="#333" stroke-width="0.22">100</text>
<line x1="439.2" y1="410.77" x2="442.2" y2="410.77" stroke="#2a2a2a" stroke-width="0.9"/>
<text transform="translate(433.7,414.03) scale(1,1.1)" font-size="9" text-anchor="end" fill="#333" stroke="#333" stroke-width="0.22">80</text>
<line x1="439.2" y1="430.1" x2="442.2" y2="430.1" stroke="#2a2a2a" stroke-width="0.9"/>
<text transform="translate(433.7,433.37) scale(1,1.1)" font-size="9" text-anchor="end" fill="#333" stroke="#333" stroke-width="0.22">60</text>
<line x1="439.2" y1="449.43" x2="442.2" y2="449.43" stroke="#2a2a2a" stroke-width="0.9"/>
<text transform="translate(433.7,452.7) scale(1,1.1)" font-size="9" text-anchor="end" fill="#333" stroke="#333" stroke-width="0.22">40</text>
<line x1="439.2" y1="468.77" x2="442.2" y2="468.77" stroke="#2a2a2a" stroke-width="0.9"/>
<text transform="translate(433.7,472.03) scale(1,1.1)" font-size="9" text-anchor="end" fill="#333" stroke="#333" stroke-width="0.22">20</text>
<line x1="439.2" y1="488.1" x2="442.2" y2="488.1" stroke="#2a2a2a" stroke-width="0.9"/>
<text transform="translate(433.7,491.37) scale(1,1.1)" font-size="9" text-anchor="end" fill="#333" stroke="#333" stroke-width="0.22">0</text>
<line x1="441.7" y1="488.4" x2="685" y2="488.4" stroke="#4a4a4a" stroke-width="1"/>
<line x1="472.3" y1="488.1" x2="472.3" y2="490.7" stroke="#2a2a2a" stroke-width="0.9"/>
<line x1="533" y1="488.1" x2="533" y2="490.7" stroke="#2a2a2a" stroke-width="0.9"/>
<line x1="593.6" y1="488.1" x2="593.6" y2="490.7" stroke="#2a2a2a" stroke-width="0.9"/>
<line x1="654.2" y1="488.1" x2="654.2" y2="490.7" stroke="#2a2a2a" stroke-width="0.9"/>
<line x1="684.5" y1="488.1" x2="684.5" y2="490.7" stroke="#2a2a2a" stroke-width="0.9"/>
<text transform="translate(472.4,503.3) scale(1,1.1)" font-size="9" text-anchor="middle" fill="#1c1c1c" stroke="#1c1c1c" stroke-width="0.22">0</text>
<text transform="translate(525,503.3) scale(1,1.1)" font-size="9.6" text-anchor="start" fill="#1c1c1c" stroke="#1c1c1c" stroke-width="0.22">10<tspan font-size="7" dy="-3.4">-2</tspan></text>
<text transform="translate(590.2,503.3) scale(1,1.1)" font-size="9.6" text-anchor="start" fill="#1c1c1c" stroke="#1c1c1c" stroke-width="0.22">10<tspan font-size="7" dy="-3.4">0</tspan></text>
<text transform="translate(650.6,503.3) scale(1,1.1)" font-size="9.6" text-anchor="start" fill="#1c1c1c" stroke="#1c1c1c" stroke-width="0.22">10<tspan font-size="7" dy="-3.4">2</tspan></text>
<text transform="translate(568.3,514.3) scale(1,1.1)" font-size="10" text-anchor="middle" fill="#1c1c1c" stroke="#1c1c1c" stroke-width="0.22" textLength="83" lengthAdjust="spacingAndGlyphs">Concentration (mM)</text>
<text transform="translate(415.3,430.4) rotate(-90) scale(1,1.1)" font-size="10" text-anchor="middle" fill="#1c1c1c" stroke="#1c1c1c" stroke-width="0.22" textLength="55" lengthAdjust="spacingAndGlyphs">Viability &#160;(%)</text>
<rect x="505.6" y="356.3" width="12.4" height="7.7" fill="#000"/>
<text transform="translate(525.4,364.2) scale(1,1.1)" font-size="11.4" text-anchor="start" fill="#1c1c1c" stroke="#1c1c1c" stroke-width="0.22">Mg<tspan font-size="8.3" dy="-3.8">2+</tspan></text>
<rect x="555" y="357" width="11.8" height="6.7" fill="#cfcfcf" stroke="#222" stroke-width="0.9"/>
<text transform="translate(574.4,364.2) scale(1,1.1)" font-size="11.4" text-anchor="start" fill="#1c1c1c" stroke="#1c1c1c" stroke-width="0.22">K<tspan font-size="8.3" dy="-3.8">+</tspan></text>
<rect x="596.6" y="357" width="11.8" height="6.7" fill="#fff" stroke="#222" stroke-width="0.9"/>
<path d="M607.45,357.45L607.95,357.95M604.95,357.45L607.95,360.45M602.45,357.45L607.95,362.95M599.95,357.45L605.75,363.25M597.45,357.45L603.25,363.25M597.05,359.55L600.75,363.25M597.05,362.05L598.25,363.25" stroke="#a0a0a0" stroke-width="0.55" fill="none"/>
<text transform="translate(614.2,364.2) scale(1,1.1)" font-size="11.4" text-anchor="start" fill="#1c1c1c" stroke="#1c1c1c" stroke-width="0.22">Ca<tspan font-size="8.3" dy="-3.8">2+</tspan></text>
<rect x="636.4" y="357" width="11.8" height="6.7" fill="#fff" stroke="#222" stroke-width="0.9"/>
<text transform="translate(656,364.2) scale(1,1.1)" font-size="11.4" text-anchor="start" fill="#1c1c1c" stroke="#1c1c1c" stroke-width="0.22" textLength="17.6" lengthAdjust="spacingAndGlyphs">Mix</text>
<text transform="translate(1,535.2) scale(1,1.15)" font-size="11.7" text-anchor="start" fill="#1c1c1c" stroke="#1c1c1c" stroke-width="0.22">(E)</text>
<line x1="73.9" y1="622.5" x2="73.9" y2="626.2" stroke="#4a4a4a" stroke-width="0.8"/>
<line x1="71.4" y1="622.5" x2="76.4" y2="622.5" stroke="#4a4a4a" stroke-width="0.8"/>
<rect x="68.55" y="626.65" width="10.7" height="57.85" fill="url(#hd)" stroke="#2a2a2a" stroke-width="0.9"/>
<line x1="105.6" y1="575.3" x2="105.6" y2="578.4" stroke="#4a4a4a" stroke-width="0.8"/>
<line x1="103.1" y1="575.3" x2="108.1" y2="575.3" stroke="#4a4a4a" stroke-width="0.8"/>
<rect x="100.65" y="578.85" width="9.9" height="105.65" fill="url(#dots)" stroke="#2a2a2a" stroke-width="0.9"/>
<line x1="133.05" y1="554.7" x2="133.05" y2="555.2" stroke="#4a4a4a" stroke-width="0.8"/>
<line x1="130.55" y1="554.7" x2="135.55" y2="554.7" stroke="#4a4a4a" stroke-width="0.8"/>
<rect x="126.75" y="555.65" width="12.6" height="128.85" fill="#fff" stroke="#2a2a2a" stroke-width="0.9"/>
<line x1="147.55" y1="559.2" x2="147.55" y2="564.4" stroke="#4a4a4a" stroke-width="0.8"/>
<line x1="145.05" y1="559.2" x2="150.05" y2="559.2" stroke="#4a4a4a" stroke-width="0.8"/>
<rect x="140.9" y="564.4" width="13.3" height="120.1" fill="#000"/>
<line x1="184" y1="563.4" x2="184" y2="565.3" stroke="#4a4a4a" stroke-width="0.8"/>
<line x1="181.5" y1="563.4" x2="186.5" y2="563.4" stroke="#4a4a4a" stroke-width="0.8"/>
<rect x="177.85" y="565.75" width="12.3" height="118.75" fill="#fff" stroke="#2a2a2a" stroke-width="0.9"/>
<line x1="198.7" y1="567.6" x2="198.7" y2="570.7" stroke="#4a4a4a" stroke-width="0.8"/>
<line x1="196.2" y1="567.6" x2="201.2" y2="567.6" stroke="#4a4a4a" stroke-width="0.8"/>
<rect x="192.2" y="570.7" width="13" height="113.8" fill="#000"/>
<line x1="235.55" y1="570.7" x2="235.55" y2="573" stroke="#4a4a4a" stroke-width="0.8"/>
<line x1="233.05" y1="570.7" x2="238.05" y2="570.7" stroke="#4a4a4a" stroke-width="0.8"/>
<rect x="229.25" y="573.45" width="12.6" height="111.05" fill="#fff" stroke="#2a2a2a" stroke-width="0.9"/>
<line x1="250.5" y1="572" x2="250.5" y2="578.4" stroke="#4a4a4a" stroke-width="0.8"/>
<line x1="248" y1="572" x2="253" y2="572" stroke="#4a4a4a" stroke-width="0.8"/>
<rect x="244" y="578.4" width="13" height="106.1" fill="#000"/>
<rect x="281.45" y="571.75" width="12.2" height="112.75" fill="#fff" stroke="#2a2a2a" stroke-width="0.9"/>
<line x1="302.35" y1="577.4" x2="302.35" y2="583" stroke="#4a4a4a" stroke-width="0.8"/>
<line x1="299.85" y1="577.4" x2="304.85" y2="577.4" stroke="#4a4a4a" stroke-width="0.8"/>
<rect x="295.8" y="583" width="13.1" height="101.5" fill="#000"/>
<line x1="57.7" y1="556.6" x2="57.7" y2="685" stroke="#2a2a2a" stroke-width="1"/>
<line x1="54.7" y1="557.1" x2="57.7" y2="557.1" stroke="#2a2a2a" stroke-width="0.9"/>
<text transform="translate(48.7,560.48) scale(1,1.1)" font-size="9.3" text-anchor="end" fill="#333" stroke="#333" stroke-width="0.22">120</text>
<line x1="54.7" y1="578.33" x2="57.7" y2="578.33" stroke="#2a2a2a" stroke-width="0.9"/>
<text transform="translate(48.7,581.71) scale(1,1.1)" font-size="9.3" text-anchor="end" fill="#333" stroke="#333" stroke-width="0.22">100</text>
<line x1="54.7" y1="599.57" x2="57.7" y2="599.57" stroke="#2a2a2a" stroke-width="0.9"/>
<text transform="translate(48.7,602.94) scale(1,1.1)" font-size="9.3" text-anchor="end" fill="#333" stroke="#333" stroke-width="0.22">80</text>
<line x1="54.7" y1="620.8" x2="57.7" y2="620.8" stroke="#2a2a2a" stroke-width="0.9"/>
<text transform="translate(48.7,624.18) scale(1,1.1)" font-size="9.3" text-anchor="end" fill="#333" stroke="#333" stroke-width="0.22">60</text>
<line x1="54.7" y1="642.03" x2="57.7" y2="642.03" stroke="#2a2a2a" stroke-width="0.9"/>
<text transform="translate(48.7,645.41) scale(1,1.1)" font-size="9.3" text-anchor="end" fill="#333" stroke="#333" stroke-width="0.22">40</text>
<line x1="54.7" y1="663.27" x2="57.7" y2="663.27" stroke="#2a2a2a" stroke-width="0.9"/>
<text transform="translate(48.7,666.64) scale(1,1.1)" font-size="9.3" text-anchor="end" fill="#333" stroke="#333" stroke-width="0.22">20</text>
<line x1="54.7" y1="684.5" x2="57.7" y2="684.5" stroke="#2a2a2a" stroke-width="0.9"/>
<text transform="translate(48.7,687.88) scale(1,1.1)" font-size="9.3" text-anchor="end" fill="#333" stroke="#333" stroke-width="0.22">0</text>
<line x1="57.2" y1="684.8" x2="321.3" y2="684.8" stroke="#4a4a4a" stroke-width="1"/>
<text transform="translate(74.9,619.23)" font-size="10.5" text-anchor="middle" fill="#2a2a2a" stroke="#2a2a2a" stroke-width="0.18">*</text>
<text transform="translate(235.3,568.33)" font-size="10.5" text-anchor="middle" fill="#2a2a2a" stroke="#2a2a2a" stroke-width="0.18">*</text>
<text transform="translate(250.7,571.23)" font-size="10.5" text-anchor="middle" fill="#2a2a2a" stroke="#2a2a2a" stroke-width="0.18">*</text>
<text transform="translate(287.8,567.33)" font-size="10.5" text-anchor="middle" fill="#2a2a2a" stroke="#2a2a2a" stroke-width="0.18">*</text>
<text transform="translate(303.1,576.63)" font-size="10.5" text-anchor="middle" fill="#2a2a2a" stroke="#2a2a2a" stroke-width="0.18">*</text>
<text transform="translate(28,621) rotate(-90) scale(1,1.06)" font-size="10" text-anchor="middle" fill="#1c1c1c" stroke="#1c1c1c" stroke-width="0.22" textLength="107" lengthAdjust="spacingAndGlyphs">Relative lipid content (%)</text>
<text transform="translate(31.8,700.3) scale(1,1.1)" font-size="10" text-anchor="start" fill="#1c1c1c" stroke="#1c1c1c" stroke-width="0.22">OA</text>
<text transform="translate(27.8,719.7) scale(1,1.1)" font-size="10" text-anchor="start" fill="#1c1c1c" stroke="#1c1c1c" stroke-width="0.22" textLength="32.5" lengthAdjust="spacingAndGlyphs">Salt (%)</text>
<text transform="translate(71.5,699.6) scale(1,1.1)" font-size="9.5" text-anchor="middle" fill="#333" stroke="#333" stroke-width="0.22">-</text>
<text transform="translate(104.3,699.6) scale(1,1.1)" font-size="9.5" text-anchor="middle" fill="#333" stroke="#333" stroke-width="0.22">+</text>
<text transform="translate(141,699.6) scale(1,1.1)" font-size="9.5" text-anchor="middle" fill="#333" stroke="#333" stroke-width="0.22">+</text>
<text transform="translate(190.3,699.6) scale(1,1.1)" font-size="9.5" text-anchor="middle" fill="#333" stroke="#333" stroke-width="0.22">+</text>
<text transform="translate(243.6,699.6) scale(1,1.1)" font-size="9.5" text-anchor="middle" fill="#333" stroke="#333" stroke-width="0.22">+</text>
<text transform="translate(295.2,699.6) scale(1,1.1)" font-size="9.5" text-anchor="middle" fill="#333" stroke="#333" stroke-width="0.22">+</text>
<text transform="translate(71.5,719.4) scale(1,1.1)" font-size="9.5" text-anchor="middle" fill="#333" stroke="#333" stroke-width="0.22">-</text>
<text transform="translate(105.5,719.4) scale(1,1.1)" font-size="9.5" text-anchor="middle" fill="#333" stroke="#333" stroke-width="0.22">-</text>
<text transform="translate(140.8,719.6) scale(1,1.1)" font-size="9.2" text-anchor="middle" fill="#1c1c1c" stroke="#1c1c1c" stroke-width="0.22">0.02</text>
<text transform="translate(190.4,719.6) scale(1,1.1)" font-size="9.2" text-anchor="middle" fill="#1c1c1c" stroke="#1c1c1c" stroke-width="0.22">0.04</text>
<text transform="translate(244.5,719.6) scale(1,1.1)" font-size="9.2" text-anchor="middle" fill="#1c1c1c" stroke="#1c1c1c" stroke-width="0.22">0.06</text>
<text transform="translate(295.6,719.6) scale(1,1.1)" font-size="9.2" text-anchor="middle" fill="#1c1c1c" stroke="#1c1c1c" stroke-width="0.22">0.08</text>
<text transform="translate(363.6,535.2) scale(1,1.15)" font-size="11.7" text-anchor="start" fill="#1c1c1c" stroke="#1c1c1c" stroke-width="0.22">(F)</text>
<line x1="452.45" y1="611.8" x2="452.45" y2="614.8" stroke="#4a4a4a" stroke-width="0.8"/>
<line x1="449.65" y1="611.8" x2="455.25" y2="611.8" stroke="#4a4a4a" stroke-width="0.8"/>
<rect x="447.85" y="615.35" width="9.2" height="73.45" fill="url(#hd)" stroke="#2a2a2a" stroke-width="1.1"/>
<line x1="472.6" y1="575.3" x2="472.6" y2="577.8" stroke="#4a4a4a" stroke-width="0.8"/>
<line x1="469.8" y1="575.3" x2="475.4" y2="575.3" stroke="#4a4a4a" stroke-width="0.8"/>
<rect x="467.95" y="578.35" width="9.3" height="110.45" fill="url(#dotsF)" stroke="#2a2a2a" stroke-width="1.1"/>
<line x1="494.65" y1="561.1" x2="494.65" y2="568.6" stroke="#4a4a4a" stroke-width="0.8"/>
<line x1="491.85" y1="561.1" x2="497.45" y2="561.1" stroke="#4a4a4a" stroke-width="0.8"/>
<rect x="489" y="568.6" width="11.3" height="120.2" fill="#000"/>
<line x1="508.35" y1="556.7" x2="508.35" y2="564" stroke="#4a4a4a" stroke-width="0.8"/>
<line x1="505.55" y1="556.7" x2="511.15" y2="556.7" stroke="#4a4a4a" stroke-width="0.8"/>
<rect x="503.35" y="564.55" width="10" height="124.25" fill="#c0c0c0" stroke="#2a2a2a" stroke-width="1.1"/>
<line x1="522.2" y1="571.5" x2="522.2" y2="579.3" stroke="#4a4a4a" stroke-width="0.8"/>
<line x1="519.4" y1="571.5" x2="525" y2="571.5" stroke="#4a4a4a" stroke-width="0.8"/>
<rect x="517.15" y="579.85" width="10.1" height="108.95" fill="#fff" stroke="#2a2a2a" stroke-width="1.1"/>
<path d="M525.4,580.4L526.7,581.7M522.9,580.4L526.7,584.2M520.4,580.4L526.7,586.7M517.9,580.4L526.7,589.2M517.7,582.7L526.7,591.7M517.7,585.2L526.7,594.2M517.7,587.7L526.7,596.7M517.7,590.2L526.7,599.2M517.7,592.7L526.7,601.7M517.7,595.2L526.7,604.2M517.7,597.7L526.7,606.7M517.7,600.2L526.7,609.2M517.7,602.7L526.7,611.7M517.7,605.2L526.7,614.2M517.7,607.7L526.7,616.7M517.7,610.2L526.7,619.2M517.7,612.7L526.7,621.7M517.7,615.2L526.7,624.2M517.7,617.7L526.7,626.7M517.7,620.2L526.7,629.2M517.7,622.7L526.7,631.7M517.7,625.2L526.7,634.2M517.7,627.7L526.7,636.7M517.7,630.2L526.7,639.2M517.7,632.7L526.7,641.7M517.7,635.2L526.7,644.2M517.7,637.7L526.7,646.7M517.7,640.2L526.7,649.2M517.7,642.7L526.7,651.7M517.7,645.2L526.7,654.2M517.7,647.7L526.7,656.7M517.7,650.2L526.7,659.2M517.7,652.7L526.7,661.7M517.7,655.2L526.7,664.2M517.7,657.7L526.7,666.7M517.7,660.2L526.7,669.2M517.7,662.7L526.7,671.7M517.7,665.2L526.7,674.2M517.7,667.7L526.7,676.7M517.7,670.2L526.7,679.2M517.7,672.7L526.7,681.7M517.7,675.2L526.7,684.2M517.7,677.7L526.7,686.7M517.7,680.2L526.3,688.8M517.7,682.7L523.8,688.8M517.7,685.2L521.3,688.8M517.7,687.7L518.8,688.8" stroke="#a0a0a0" stroke-width="0.55" fill="none"/>
<line x1="536.2" y1="574.5" x2="536.2" y2="577" stroke="#4a4a4a" stroke-width="0.8"/>
<line x1="533.4" y1="574.5" x2="539" y2="574.5" stroke="#4a4a4a" stroke-width="0.8"/>
<rect x="531.15" y="577.55" width="10.1" height="111.25" fill="#fff" stroke="#2a2a2a" stroke-width="1.1"/>
<line x1="558.1" y1="572" x2="558.1" y2="580.1" stroke="#4a4a4a" stroke-width="0.8"/>
<line x1="555.3" y1="572" x2="560.9" y2="572" stroke="#4a4a4a" stroke-width="0.8"/>
<rect x="552.3" y="580.1" width="11.6" height="108.7" fill="#000"/>
<line x1="571.95" y1="582.2" x2="571.95" y2="588.4" stroke="#4a4a4a" stroke-width="0.8"/>
<line x1="569.15" y1="582.2" x2="574.75" y2="582.2" stroke="#4a4a4a" stroke-width="0.8"/>
<rect x="566.95" y="588.95" width="10" height="99.85" fill="#c0c0c0" stroke="#2a2a2a" stroke-width="1.1"/>
<line x1="585.15" y1="587.8" x2="585.15" y2="593.2" stroke="#4a4a4a" stroke-width="0.8"/>
<line x1="582.35" y1="587.8" x2="587.95" y2="587.8" stroke="#4a4a4a" stroke-width="0.8"/>
<rect x="580.15" y="593.75" width="10" height="95.05" fill="#fff" stroke="#2a2a2a" stroke-width="1.1"/>
<path d="M589.3,594.3L589.6,594.6M586.8,594.3L589.6,597.1M584.3,594.3L589.6,599.6M581.8,594.3L589.6,602.1M580.7,595.7L589.6,604.6M580.7,598.2L589.6,607.1M580.7,600.7L589.6,609.6M580.7,603.2L589.6,612.1M580.7,605.7L589.6,614.6M580.7,608.2L589.6,617.1M580.7,610.7L589.6,619.6M580.7,613.2L589.6,622.1M580.7,615.7L589.6,624.6M580.7,618.2L589.6,627.1M580.7,620.7L589.6,629.6M580.7,623.2L589.6,632.1M580.7,625.7L589.6,634.6M580.7,628.2L589.6,637.1M580.7,630.7L589.6,639.6M580.7,633.2L589.6,642.1M580.7,635.7L589.6,644.6M580.7,638.2L589.6,647.1M580.7,640.7L589.6,649.6M580.7,643.2L589.6,652.1M580.7,645.7L589.6,654.6M580.7,648.2L589.6,657.1M580.7,650.7L589.6,659.6M580.7,653.2L589.6,662.1M580.7,655.7L589.6,664.6M580.7,658.2L589.6,667.1M580.7,660.7L589.6,669.6M580.7,663.2L589.6,672.1M580.7,665.7L589.6,674.6M580.7,668.2L589.6,677.1M580.7,670.7L589.6,679.6M580.7,673.2L589.6,682.1M580.7,675.7L589.6,684.6M580.7,678.2L589.6,687.1M580.7,680.7L588.8,688.8M580.7,683.2L586.3,688.8M580.7,685.7L583.8,688.8M580.7,688.2L581.3,688.8" stroke="#a0a0a0" stroke-width="0.55" fill="none"/>
<line x1="599.05" y1="590.3" x2="599.05" y2="594.7" stroke="#4a4a4a" stroke-width="0.8"/>
<line x1="596.25" y1="590.3" x2="601.85" y2="590.3" stroke="#4a4a4a" stroke-width="0.8"/>
<rect x="593.95" y="595.25" width="10.2" height="93.55" fill="#fff" stroke="#2a2a2a" stroke-width="1.1"/>
<line x1="620.85" y1="571.1" x2="620.85" y2="573" stroke="#4a4a4a" stroke-width="0.8"/>
<line x1="618.05" y1="571.1" x2="623.65" y2="571.1" stroke="#4a4a4a" stroke-width="0.8"/>
<rect x="615.3" y="573" width="11.1" height="115.8" fill="#000"/>
<line x1="634.8" y1="582.2" x2="634.8" y2="587.8" stroke="#4a4a4a" stroke-width="0.8"/>
<line x1="632" y1="582.2" x2="637.6" y2="582.2" stroke="#4a4a4a" stroke-width="0.8"/>
<rect x="629.85" y="588.35" width="9.9" height="100.45" fill="#c0c0c0" stroke="#2a2a2a" stroke-width="1.1"/>
<line x1="648.7" y1="596" x2="648.7" y2="596.4" stroke="#4a4a4a" stroke-width="0.8"/>
<line x1="645.9" y1="596" x2="651.5" y2="596" stroke="#4a4a4a" stroke-width="0.8"/>
<rect x="643.65" y="596.95" width="10.1" height="91.85" fill="#fff" stroke="#2a2a2a" stroke-width="1.1"/>
<path d="M652.5,597.5L653.2,598.2M650,597.5L653.2,600.7M647.5,597.5L653.2,603.2M645,597.5L653.2,605.7M644.2,599.2L653.2,608.2M644.2,601.7L653.2,610.7M644.2,604.2L653.2,613.2M644.2,606.7L653.2,615.7M644.2,609.2L653.2,618.2M644.2,611.7L653.2,620.7M644.2,614.2L653.2,623.2M644.2,616.7L653.2,625.7M644.2,619.2L653.2,628.2M644.2,621.7L653.2,630.7M644.2,624.2L653.2,633.2M644.2,626.7L653.2,635.7M644.2,629.2L653.2,638.2M644.2,631.7L653.2,640.7M644.2,634.2L653.2,643.2M644.2,636.7L653.2,645.7M644.2,639.2L653.2,648.2M644.2,641.7L653.2,650.7M644.2,644.2L653.2,653.2M644.2,646.7L653.2,655.7M644.2,649.2L653.2,658.2M644.2,651.7L653.2,660.7M644.2,654.2L653.2,663.2M644.2,656.7L653.2,665.7M644.2,659.2L653.2,668.2M644.2,661.7L653.2,670.7M644.2,664.2L653.2,673.2M644.2,666.7L653.2,675.7M644.2,669.2L653.2,678.2M644.2,671.7L653.2,680.7M644.2,674.2L653.2,683.2M644.2,676.7L653.2,685.7M644.2,679.2L653.2,688.2M644.2,681.7L651.3,688.8M644.2,684.2L648.8,688.8M644.2,686.7L646.3,688.8" stroke="#a0a0a0" stroke-width="0.55" fill="none"/>
<line x1="662.75" y1="588.4" x2="662.75" y2="592.2" stroke="#4a4a4a" stroke-width="0.8"/>
<line x1="659.95" y1="588.4" x2="665.55" y2="588.4" stroke="#4a4a4a" stroke-width="0.8"/>
<rect x="657.75" y="592.75" width="10" height="96.05" fill="#fff" stroke="#2a2a2a" stroke-width="1.1"/>
<line x1="441.8" y1="555.2" x2="441.8" y2="689.3" stroke="#2a2a2a" stroke-width="1"/>
<line x1="438.8" y1="555.7" x2="441.8" y2="555.7" stroke="#2a2a2a" stroke-width="0.9"/>
<text transform="translate(433.3,558.97) scale(1,1.1)" font-size="9" text-anchor="end" fill="#333" stroke="#333" stroke-width="0.22">120</text>
<line x1="438.8" y1="577.88" x2="441.8" y2="577.88" stroke="#2a2a2a" stroke-width="0.9"/>
<text transform="translate(433.3,581.15) scale(1,1.1)" font-size="9" text-anchor="end" fill="#333" stroke="#333" stroke-width="0.22">100</text>
<line x1="438.8" y1="600.07" x2="441.8" y2="600.07" stroke="#2a2a2a" stroke-width="0.9"/>
<text transform="translate(433.3,603.33) scale(1,1.1)" font-size="9" text-anchor="end" fill="#333" stroke="#333" stroke-width="0.22">80</text>
<line x1="438.8" y1="622.25" x2="441.8" y2="622.25" stroke="#2a2a2a" stroke-width="0.9"/>
<text transform="translate(433.3,625.52) scale(1,1.1)" font-size="9" text-anchor="end" fill="#333" stroke="#333" stroke-width="0.22">60</text>
<line x1="438.8" y1="644.43" x2="441.8" y2="644.43" stroke="#2a2a2a" stroke-width="0.9"/>
<text transform="translate(433.3,647.7) scale(1,1.1)" font-size="9" text-anchor="end" fill="#333" stroke="#333" stroke-width="0.22">40</text>
<line x1="438.8" y1="666.62" x2="441.8" y2="666.62" stroke="#2a2a2a" stroke-width="0.9"/>
<text transform="translate(433.3,669.88) scale(1,1.1)" font-size="9" text-anchor="end" fill="#333" stroke="#333" stroke-width="0.22">20</text>
<line x1="438.8" y1="688.8" x2="441.8" y2="688.8" stroke="#2a2a2a" stroke-width="0.9"/>
<text transform="translate(433.3,692.07) scale(1,1.1)" font-size="9" text-anchor="end" fill="#333" stroke="#333" stroke-width="0.22">0</text>
<line x1="441.3" y1="689.1" x2="673.6" y2="689.1" stroke="#4a4a4a" stroke-width="1"/>
<line x1="484.2" y1="688.8" x2="484.2" y2="691.6" stroke="#2a2a2a" stroke-width="0.9"/>
<line x1="547" y1="688.8" x2="547" y2="691.6" stroke="#2a2a2a" stroke-width="0.9"/>
<line x1="609.8" y1="688.8" x2="609.8" y2="691.6" stroke="#2a2a2a" stroke-width="0.9"/>
<line x1="673.2" y1="688.8" x2="673.2" y2="691.6" stroke="#2a2a2a" stroke-width="0.9"/>
<text transform="translate(453,612.13)" font-size="10.5" text-anchor="middle" fill="#2a2a2a" stroke="#2a2a2a" stroke-width="0.18">*</text>
<text transform="translate(584.6,586.93)" font-size="10.5" text-anchor="middle" fill="#2a2a2a" stroke="#2a2a2a" stroke-width="0.18">*</text>
<text transform="translate(599,588.53)" font-size="10.5" text-anchor="middle" fill="#2a2a2a" stroke="#2a2a2a" stroke-width="0.18">*</text>
<text transform="translate(649.1,593.63)" font-size="10.5" text-anchor="middle" fill="#2a2a2a" stroke="#2a2a2a" stroke-width="0.18">*</text>
<text transform="translate(663.3,586.93)" font-size="10.5" text-anchor="middle" fill="#2a2a2a" stroke="#2a2a2a" stroke-width="0.18">*</text>
<text transform="translate(415,622.5) rotate(-90) scale(1,1.06)" font-size="10" text-anchor="middle" fill="#1c1c1c" stroke="#1c1c1c" stroke-width="0.22" textLength="107" lengthAdjust="spacingAndGlyphs">Relative lipid content (%)</text>
<text transform="translate(407.5,706.6) scale(1,1.1)" font-size="10" text-anchor="start" fill="#1c1c1c" stroke="#1c1c1c" stroke-width="0.22">OA</text>
<text transform="translate(391,726.8) scale(1,1.1)" font-size="10" text-anchor="start" fill="#1c1c1c" stroke="#1c1c1c" stroke-width="0.22" textLength="56" lengthAdjust="spacingAndGlyphs">Mineral (pM)</text>
<text transform="translate(452.8,705.8) scale(1,1.1)" font-size="9.5" text-anchor="middle" fill="#333" stroke="#333" stroke-width="0.22">-</text>
<text transform="translate(475,705.8) scale(1,1.1)" font-size="9.5" text-anchor="middle" fill="#333" stroke="#333" stroke-width="0.22">+</text>
<text transform="translate(516.6,705.8) scale(1,1.1)" font-size="9.5" text-anchor="middle" fill="#333" stroke="#333" stroke-width="0.22">+</text>
<text transform="translate(584.3,705.8) scale(1,1.1)" font-size="9.5" text-anchor="middle" fill="#333" stroke="#333" stroke-width="0.22">+</text>
<text transform="translate(652.6,705.8) scale(1,1.1)" font-size="9.5" text-anchor="middle" fill="#333" stroke="#333" stroke-width="0.22">+</text>
<text transform="translate(454.2,726.6) scale(1,1.1)" font-size="9.5" text-anchor="middle" fill="#333" stroke="#333" stroke-width="0.22">-</text>
<text transform="translate(477.6,726.6) scale(1,1.1)" font-size="9.5" text-anchor="middle" fill="#333" stroke="#333" stroke-width="0.22">-</text>
<text transform="translate(514.2,726.8) scale(1,1.1)" font-size="9.6" text-anchor="start" fill="#1c1c1c" stroke="#1c1c1c" stroke-width="0.22">10<tspan font-size="7" dy="-3.4">-2</tspan></text>
<text transform="translate(581.6,726.8) scale(1,1.1)" font-size="9.6" text-anchor="start" fill="#1c1c1c" stroke="#1c1c1c" stroke-width="0.22">10<tspan font-size="7" dy="-3.4">0</tspan></text>
<text transform="translate(649.5,726.8) scale(1,1.1)" font-size="9.6" text-anchor="start" fill="#1c1c1c" stroke="#1c1c1c" stroke-width="0.22">10<tspan font-size="7" dy="-3.4">2</tspan></text>
</svg>
</body>
</html>
